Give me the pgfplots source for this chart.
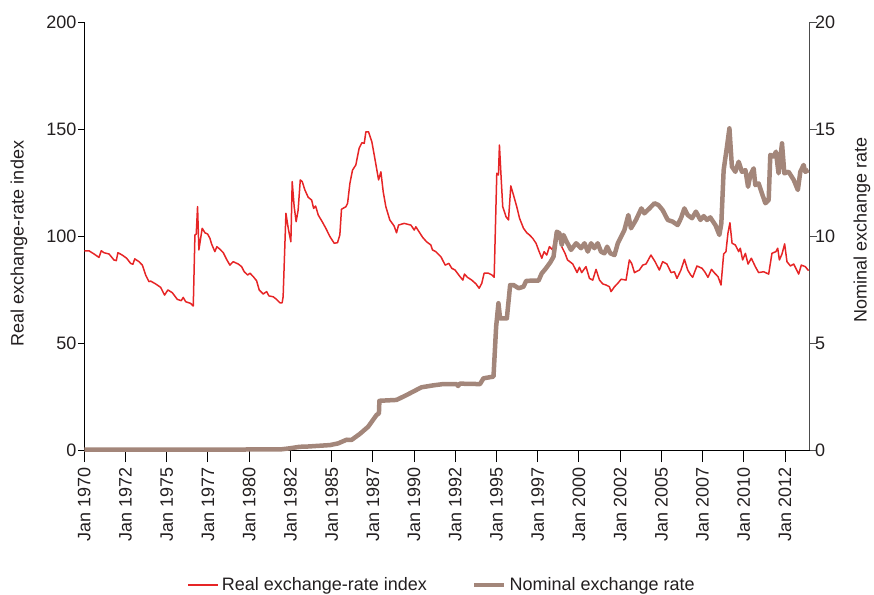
\documentclass[border=0pt]{standalone}
\usepackage{fontspec}
\setmainfont{Liberation Sans}
\usepackage{pgfplots}
\usepackage{pgfplotstable}
\pgfplotsset{compat=1.18}
\definecolor{realred}{RGB}{230,37,38}
\definecolor{nombrown}{RGB}{163,134,122}
\definecolor{txt}{RGB}{35,31,32}

\pgfplotstableread{
x y
1970.00 93.1
1970.28 93.1
1970.59 91.6
1970.89 90.0
1971.03 93.1
1971.19 92.2
1971.50 91.6
1971.80 88.8
1971.94 88.5
1972.04 92.2
1972.30 91.1
1972.57 89.6
1972.81 87.2
1972.95 86.8
1973.06 89.3
1973.32 88.0
1973.52 86.4
1973.72 81.8
1973.92 78.7
1974.03 78.9
1974.33 77.6
1974.63 76.0
1974.87 72.4
1975.07 74.8
1975.34 73.5
1975.64 70.4
1975.88 69.8
1976.00 71.3
1976.15 69.3
1976.45 68.5
1976.61 67.3
1976.71 100.5
1976.79 100.9
1976.87 113.7
1976.95 93.5
1977.15 103.6
1977.32 101.5
1977.48 100.9
1977.62 98.9
1977.72 96.3
1977.92 92.7
1978.04 95.0
1978.23 93.8
1978.43 92.2
1978.63 89.1
1978.83 86.4
1979.03 88.0
1979.34 86.9
1979.54 85.7
1979.70 83.3
1979.91 81.8
1980.05 82.6
1980.25 81.0
1980.45 79.1
1980.61 74.8
1980.85 72.9
1981.06 74.0
1981.20 72.0
1981.46 71.6
1981.66 70.4
1981.86 68.8
1982.00 68.8
1982.06 71.6
1982.23 110.6
1982.37 103.6
1982.53 97.3
1982.61 125.4
1982.73 113.7
1982.85 106.7
1982.97 112.1
1983.10 126.2
1983.22 125.4
1983.38 121.5
1983.58 118.1
1983.79 116.8
1983.91 112.9
1984.03 114.0
1984.19 109.8
1984.43 106.7
1984.65 103.6
1984.90 99.7
1985.16 96.6
1985.36 96.9
1985.50 100.5
1985.60 112.5
1985.87 113.7
1985.97 115.3
1986.11 124.6
1986.27 130.8
1986.47 133.2
1986.67 141.0
1986.84 143.6
1986.98 143.3
1987.08 148.7
1987.24 148.7
1987.44 144.1
1987.64 135.5
1987.85 126.2
1987.99 130.0
1988.13 120.7
1988.29 113.7
1988.53 107.5
1988.79 104.7
1988.94 101.5
1989.06 105.1
1989.40 105.9
1989.81 105.1
1990.01 102.8
1990.11 104.3
1990.52 99.4
1990.76 97.3
1991.02 95.8
1991.12 93.5
1991.32 92.7
1991.63 90.3
1991.89 86.4
1992.11 87.2
1992.29 84.9
1992.49 84.1
1992.76 81.3
1992.96 79.4
1993.06 82.2
1993.24 80.7
1993.50 79.4
1993.76 77.6
1993.95 75.6
1994.11 77.9
1994.25 82.6
1994.52 82.6
1994.72 81.8
1994.86 80.7
1995.02 129.3
1995.12 128.5
1995.18 142.5
1995.28 127.7
1995.38 113.7
1995.58 109.0
1995.73 107.5
1995.87 123.4
1996.03 119.2
1996.23 113.7
1996.40 108.3
1996.64 103.6
1996.84 101.5
1997.00 100.5
1997.20 98.9
1997.40 96.6
1997.55 93.5
1997.75 89.6
1997.89 92.7
1998.05 91.1
1998.21 95.0
1998.41 93.5
1998.61 102.0
1998.82 100.0
1998.96 95.0
1999.16 91.9
1999.31 88.8
1999.45 88.0
1999.63 86.9
1999.89 82.9
2000.03 85.4
2000.17 82.9
2000.43 85.7
2000.64 80.2
2000.84 79.4
2001.04 84.4
2001.25 79.4
2001.45 77.6
2001.65 77.1
2001.85 76.3
2001.95 74.0
2002.16 76.3
2002.36 77.9
2002.56 79.8
2002.86 79.4
2003.06 88.8
2003.20 87.2
2003.37 82.9
2003.67 84.1
2003.87 86.4
2004.07 86.9
2004.37 91.1
2004.62 88.0
2004.88 84.1
2005.08 88.0
2005.34 86.9
2005.59 82.9
2005.79 83.3
2005.95 80.2
2006.19 84.1
2006.40 89.1
2006.60 84.1
2006.78 81.8
2006.90 80.7
2007.16 86.0
2007.47 84.9
2007.63 83.3
2007.83 80.7
2008.04 84.4
2008.24 82.6
2008.44 81.0
2008.62 77.1
2008.78 91.6
2008.92 92.7
2009.04 101.3
2009.16 106.2
2009.29 96.6
2009.49 95.8
2009.69 92.7
2009.79 94.3
2009.93 88.8
2010.10 91.9
2010.26 86.9
2010.46 89.6
2010.70 85.7
2010.90 82.9
2011.21 83.3
2011.51 82.2
2011.71 91.9
2011.95 92.7
2012.06 94.3
2012.16 88.8
2012.32 91.6
2012.48 96.3
2012.62 88.0
2012.83 86.0
2013.03 86.9
2013.16 84.9
2013.33 82.2
2013.49 86.4
2013.73 85.7
2013.93 83.8
}\realdata

\pgfplotstableread{
x y
1970.00 0.0125
1976.60 0.0125
1976.80 0.020
1981.90 0.026
1982.10 0.045
1982.47 0.08
1983.07 0.15
1983.50 0.16
1984.90 0.23
1985.40 0.31
1985.91 0.48
1986.21 0.47
1986.71 0.75
1987.22 1.09
1987.73 1.64
1987.87 1.71
1987.90 2.30
1988.94 2.34
1989.55 2.57
1990.45 2.93
1991.16 3.02
1991.76 3.08
1992.58 3.08
1992.67 2.99
1992.78 3.10
1994.00 3.08
1994.21 3.35
1994.82 3.43
1994.98 5.76
1995.12 6.86
1995.22 6.15
1995.63 6.15
1995.83 7.71
1996.03 7.71
1996.34 7.56
1996.64 7.63
1996.80 7.90
1997.04 7.91
1997.55 7.91
1997.75 8.26
1997.95 8.44
1998.25 8.75
1998.46 9.03
1998.66 10.20
1998.82 10.13
1998.96 9.58
1999.06 10.05
1999.26 9.73
1999.52 9.35
1999.83 9.66
2000.13 9.43
2000.34 9.66
2000.54 9.27
2000.74 9.66
2000.94 9.43
2001.14 9.66
2001.34 9.27
2001.55 9.19
2001.71 9.50
2001.91 9.19
2002.16 9.11
2002.36 9.66
2002.56 9.97
2002.76 10.28
2003.00 10.98
2003.16 10.36
2003.46 10.75
2003.79 11.29
2003.97 11.06
2004.28 11.29
2004.58 11.53
2004.82 11.45
2005.08 11.21
2005.39 10.75
2005.69 10.67
2005.99 10.51
2006.19 10.83
2006.40 11.29
2006.60 10.98
2006.86 10.83
2007.10 11.14
2007.37 10.75
2007.57 10.93
2007.77 10.75
2007.97 10.87
2008.28 10.51
2008.52 10.05
2008.64 10.59
2008.78 13.08
2008.98 14.17
2009.13 15.03
2009.28 13.24
2009.49 13.00
2009.69 13.47
2009.89 13.00
2010.10 13.08
2010.26 12.30
2010.40 12.85
2010.60 13.16
2010.70 12.38
2010.90 12.46
2011.10 12.00
2011.31 11.53
2011.51 11.68
2011.61 13.79
2011.81 13.71
2011.95 13.94
2012.11 12.93
2012.32 14.33
2012.46 12.93
2012.72 13.00
2013.03 12.62
2013.28 12.15
2013.43 13.00
2013.63 13.32
2013.73 13.00
2013.93 13.08
}\nomdata

\begin{document}
\begin{tikzpicture}
\useasboundingbox (-84.3pt,-144pt) rectangle (789.7pt,450pt);
\pgfplotsset{every axis/.append style={
  scale only axis, width=725.4pt, height=428pt,
  xmin=1970, xmax=2014,
  font=\fontsize{18}{21}\selectfont,
  tick label style={/pgf/number format/assume math mode=true, text=txt, font=\fontsize{18}{21}\selectfont},
  label style={text=txt, font=\fontsize{18}{21}\selectfont},
  tick align=outside,
  every tick/.style={line width=0.9pt},
}}
\begin{axis}[
  axis y line*=left, axis x line*=bottom,
  axis line style={black, line width=1pt},
  ymin=0, ymax=200, ytick={0,50,100,150,200},
  xtick={1970,1972.5,1975,1977.5,1980,1982.5,1985,1987.5,1990,1992.5,1995,1997.5,2000,2002.5,2005,2007.5,2010,2012.5},
  xticklabels={Jan 1970,Jan 1972,Jan 1975,Jan 1977,Jan 1980,Jan 1982,Jan 1985,Jan 1987,Jan 1990,Jan 1992,Jan 1995,Jan 1997,Jan 2000,Jan 2002,Jan 2005,Jan 2007,Jan 2010,Jan 2012},
  xticklabel style={rotate=90, anchor=east},
  xticklabel shift=10pt,
  xtick style={/pgfplots/major tick length=12pt, black},
  ytick style={/pgfplots/major tick length=6pt, black},
  ylabel={Real exchange-rate index},
  ylabel style={at={(axis description cs:-0.090,0.4825)}, anchor=center},
]
\addplot[realred, line width=1.5pt, line join=round] table[x=x,y=y] {\realdata};
\end{axis}
\begin{axis}[
  axis y line*=right, axis x line=none,
  axis line style={black!70, line width=1pt},
  ymin=0, ymax=20, ytick={0,5,10,15,20},
  ytick style={/pgfplots/major tick length=7pt, black!70},
  yticklabel style={inner sep=1pt},
  ylabel={Nominal exchange rate},
  ylabel style={at={(axis description cs:1.0721,0.514)}, anchor=center},
  clip=false,
  legend columns=2,
  legend image code/.code={\draw[#1] (0pt,0pt) -- (30pt,0pt);},
  legend style={at={(axis description cs:0.4938,-0.3154)}, anchor=center, draw=none, fill=none,
    font=\fontsize{18}{21}\selectfont, text=txt,
    nodes={inner sep=3pt},
    /tikz/every even column/.append style={column sep=42pt}},
]
\addlegendimage{realred, line width=1.5pt}
\addlegendentry{Real exchange-rate index}
\addplot[nombrown, line width=4.5pt, line join=round] table[x=x,y=y] {\nomdata};
\addlegendentry{Nominal exchange rate}
\end{axis}
\end{tikzpicture}
\end{document}
